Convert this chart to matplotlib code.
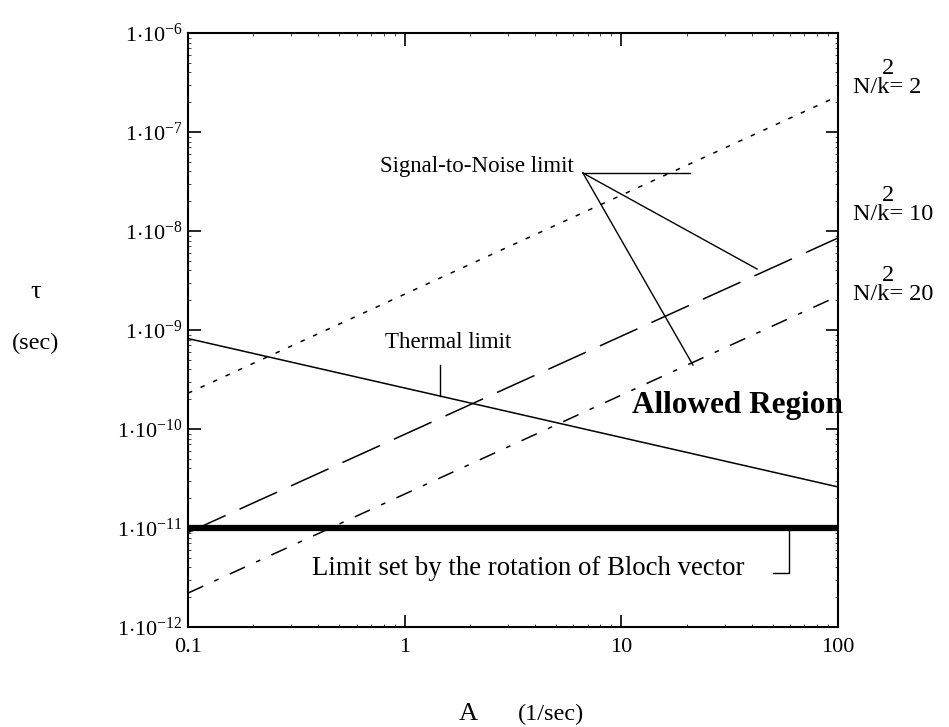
import numpy as np
import matplotlib.pyplot as plt
from matplotlib.ticker import FixedLocator, LogLocator, NullFormatter

plt.rcParams['font.family'] = ['Liberation Serif', 'DejaVu Serif']
plt.rcParams['mathtext.fontset'] = 'custom'
plt.rcParams['mathtext.rm'] = 'Liberation Serif'
plt.rcParams['mathtext.it'] = 'Liberation Serif:italic'
plt.rcParams['mathtext.bf'] = 'Liberation Serif:bold'

# data (end points of straight lines in log-log)
A = [0.1, 100]
snr_2 = [2.3e-10, 2.3e-7]
snr_10 = [9.0e-12, 8.5e-9]
snr_20 = [2.2e-12, 2.2e-9]
thermal = [8.2e-10, 2.6e-11]
bloch = [1e-11, 1e-11]

x_ticks = [0.1, 1, 10, 100]
x_tick_labels = ["0.1", "1", "10", "100"]
y_ticks = [1e-12, 1e-11, 1e-10, 1e-9, 1e-8, 1e-7, 1e-6]
y_tick_labels = [r"1$\cdot$10$^{-%d}$" % e for e in [12, 11, 10, 9, 8, 7, 6]]
nk_values = ["2", "10", "20"]

W, H = 949, 727
fig = plt.figure(figsize=(W / 100, H / 100), dpi=100)
ax = fig.add_axes([188 / W, 1 - 627 / H, 650 / W, 594 / H])

ax.plot(A, snr_2, color='k', lw=1.1, ls=(0, (3, 6)))
ax.plot(A, snr_10, color='k', lw=1.1, ls=(0, (27, 10)))
ax.plot(A, snr_20, color='k', lw=1.1, ls=(0, (11, 8, 3, 8)))
ax.plot(A, thermal, color='k', lw=1.1)
ax.plot(A, bloch, color='k', lw=4.5, solid_capstyle='butt')

ax.set_xscale('log')
ax.set_yscale('log')
ax.set_xlim(0.1, 100)
ax.set_ylim(1e-12, 1e-6)

ax.xaxis.set_major_locator(FixedLocator(x_ticks))
ax.set_xticklabels(x_tick_labels)
ax.yaxis.set_major_locator(FixedLocator(y_ticks))
ax.set_yticklabels(y_tick_labels)
ax.xaxis.set_minor_locator(LogLocator(subs=np.arange(2, 10)))
ax.yaxis.set_minor_locator(LogLocator(subs=np.arange(2, 10), numticks=20))
ax.xaxis.set_minor_formatter(NullFormatter())
ax.yaxis.set_minor_formatter(NullFormatter())
ax.tick_params(which='major', direction='in', length=9, width=1.2,
               top=True, right=True, labelsize=16)
ax.tick_params(axis='x', which='major', pad=8)
ax.tick_params(axis='y', which='major', pad=4)
ax.tick_params(which='minor', direction='in', length=2, width=0.5,
               top=True, right=True)
for s in ax.spines.values():
    s.set_linewidth(1.5)

# annotation leader lines
ax.plot([6.65, 20.7], [3.85e-8, 3.85e-8], color='k', lw=1.0)
ax.plot([6.65, 42.3], [3.85e-8, 4.13e-9], color='k', lw=1.0)
ax.plot([6.65, 21.4], [3.85e-8, 4.43e-10], color='k', lw=1.0)
ax.plot([1.456, 1.456], [4.43e-10, 2.15e-10], color='k', lw=1.0)
ax.plot([50.1, 59.4, 59.4], [3.51e-12, 3.51e-12, 1e-11], color='k', lw=1.0)


def px(x, y):
    return x / W, 1 - y / H


fig.text(*px(574, 172), "Signal-to-Noise limit", fontsize=16.5,
         ha='right', va='baseline')
fig.text(*px(511, 348), "Thermal limit", fontsize=16.5,
         ha='right', va='baseline')
fig.text(*px(632, 413), "Allowed Region", fontsize=22.5, fontweight='bold',
         ha='left', va='baseline')
fig.text(*px(312, 575), "Limit set by the rotation of Bloch vector",
         fontsize=19.3, ha='left', va='baseline')

for yy, val in zip([93, 220, 300], nk_values):
    fig.text(*px(853, yy), "N/k= " + val, fontsize=17.5,
             ha='left', va='baseline')
    fig.text(*px(882, yy - 19), "2", fontsize=17.5, ha='left', va='baseline')

fig.text(*px(36, 292), "τ", fontsize=19, ha='center', va='center')
fig.text(*px(36, 343), "(sec)", fontsize=17.5, ha='center', va='center')
fig.text(*px(468, 714), "A", fontsize=19, ha='center', va='center')
fig.text(*px(551, 714), "(1/sec)", fontsize=17.5, ha='center', va='center')

fig.savefig("out.png", dpi=100)
